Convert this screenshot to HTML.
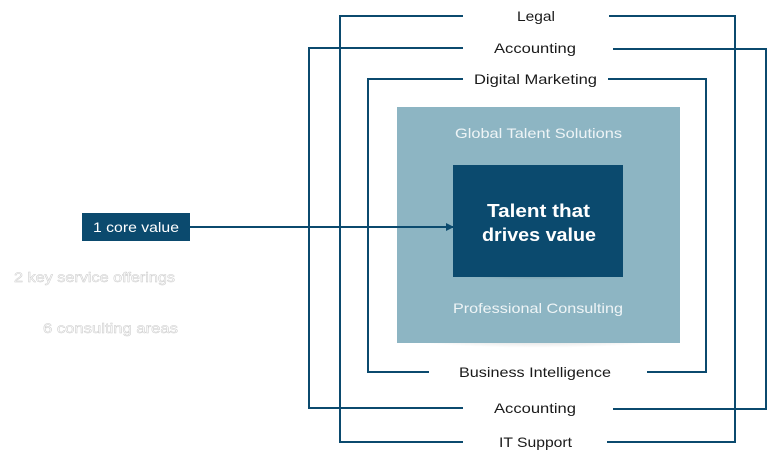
<!DOCTYPE html>
<html><head><meta charset="utf-8"><style>
html,body{margin:0;padding:0;background:#fff;width:768px;height:459px;overflow:hidden}
svg text{font-family:"Liberation Sans",sans-serif}
</style></head><body>
<svg width="768" height="459" viewBox="0 0 768 459">
<defs>
<radialGradient id="sh" cx="0.5" cy="0" r="0.6">
<stop offset="0" stop-color="#000" stop-opacity="0.3"/>
<stop offset="1" stop-color="#000" stop-opacity="0"/>
</radialGradient>
<marker id="ar" markerWidth="8" markerHeight="8" refX="7" refY="4" orient="auto" markerUnits="userSpaceOnUse">
<path d="M0,0 L8,4 L0,8 z" fill="#0b4a6e"/></marker>
</defs>
<g fill="none" stroke="#0b4a6e" stroke-width="2">
<polyline points="463,16 340,16 340,442 463,442"/>
<polyline points="609,16 735,16 735,442 607,442"/>
<polyline points="463,48 309,48 309,408 463,408"/>
<polyline points="613,49 766,49 766,409 613,409"/>
<polyline points="463,79 368,79 368,372 429,372"/>
<polyline points="608,79 706,79 706,372 647,372"/>
</g>
<ellipse cx="538" cy="345" rx="140" ry="14" fill="url(#sh)"/>
<rect x="397" y="107" width="283" height="236" fill="#8db5c3"/>
<ellipse cx="538" cy="278" rx="85" ry="10" fill="url(#sh)"/>
<rect x="453" y="165" width="170" height="112" fill="#0b4a6e"/>
<rect x="82" y="213" width="108" height="28" fill="#0b4a6e"/>
<line x1="190" y1="227" x2="453" y2="227" stroke="#0b4a6e" stroke-width="2" marker-end="url(#ar)"/>
<g font-size="14" fill="#1a1a1a" lengthAdjust="spacingAndGlyphs">
<text x="517" y="21" textLength="38" lengthAdjust="spacingAndGlyphs">Legal</text>
<text x="494" y="53" textLength="82" lengthAdjust="spacingAndGlyphs">Accounting</text>
<text x="474" y="84" textLength="123" lengthAdjust="spacingAndGlyphs">Digital Marketing</text>
<text x="459" y="377" textLength="152" lengthAdjust="spacingAndGlyphs">Business Intelligence</text>
<text x="494" y="413" textLength="82" lengthAdjust="spacingAndGlyphs">Accounting</text>
<text x="499" y="447" textLength="73" lengthAdjust="spacingAndGlyphs">IT Support</text>
</g>
<g font-size="14" fill="#eef4f6">
<text x="455" y="138" textLength="167" lengthAdjust="spacingAndGlyphs">Global Talent Solutions</text>
<text x="453" y="313" textLength="170" lengthAdjust="spacingAndGlyphs">Professional Consulting</text>
</g>
<g font-size="18" font-weight="bold" fill="#fff">
<text x="487" y="217" textLength="103" lengthAdjust="spacingAndGlyphs">Talent that</text>
<text x="482" y="241" textLength="114" lengthAdjust="spacingAndGlyphs">drives value</text>
</g>
<text x="93" y="232" font-size="14" fill="#fff" textLength="86" lengthAdjust="spacingAndGlyphs">1 core value</text>
<g font-size="14" fill="#fff" stroke="#ccc" stroke-width="0.5">
<text x="14" y="282" textLength="161" lengthAdjust="spacingAndGlyphs">2 key service offerings</text>
<text x="43" y="333" textLength="135" lengthAdjust="spacingAndGlyphs">6 consulting areas</text>
</g>
</svg>
</body></html>
